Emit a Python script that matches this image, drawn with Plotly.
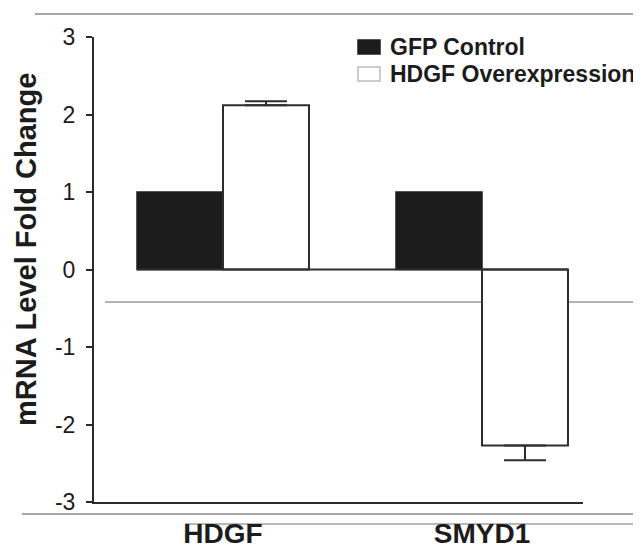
import plotly.graph_objects as go

# ---- data ----
genes = ["HDGF", "SMYD1"]
gfp_control = [1.0, 1.0]
hdgf_overexpression = [2.12, -2.27]
hdgf_err_up = [0.05, 0.0]
hdgf_err_down = [0.0, 0.19]
y_ticks = [-3, -2, -1, 0, 1, 2, 3]
y_tick_text = ["-3", "-2", "-1", "0", "1", "2", "3"]
series_names = ["GFP Control", "HDGF Overexpression"]

# ---- layout geometry (screen pixels; page body adds an 8px offset) ----
OFF = 8
W, H = 641 - OFF, 549 - OFF
PLOT_L, PLOT_R, PLOT_T, PLOT_B = 94, 583, 37, 502   # screen pixels
ML, MT = PLOT_L - OFF, PLOT_T - OFF
PW, PH = PLOT_R - PLOT_L, PLOT_B - PLOT_T
MR, MB = W - ML - PW, H - MT - PH
BARGAP = 0.336


def px2x(px):
    return (px - PLOT_L) / PW


def py2y(py):
    return (PLOT_B - py) / PH


FONT = "Arial, 'Liberation Sans', Helvetica, sans-serif"
INK = "#1c1c1c"

fig = go.Figure()
fig.add_trace(go.Bar(
    x=list(range(len(genes))), y=gfp_control, name=series_names[0],
    marker=dict(color="#1c1c1c", line=dict(color="#1c1c1c", width=1.5)),
    showlegend=False,
))
fig.add_trace(go.Bar(
    x=list(range(len(genes))), y=hdgf_overexpression, name=series_names[1],
    marker=dict(color="white", line=dict(color="#2e2e2e", width=2)),
    error_y=dict(type="data", symmetric=False, array=hdgf_err_up,
                 arrayminus=hdgf_err_down, color="#2e2e2e", thickness=2, width=21),
    showlegend=False,
))

# baseline at zero spanning the bar groups
half = (1 - BARGAP) / 2
fig.add_shape(type="line", xref="x", yref="y", x0=-half, x1=len(genes) - 1 + half,
              y0=0, y1=0, line=dict(color="#2e2e2e", width=2))

# manual legend
legend_rows = [(47, "#1c1c1c", "#1c1c1c"), (74, "white", "#bdbdbd")]
for (cy, fill, edge), name in zip(legend_rows, series_names):
    fig.add_shape(type="rect", xref="paper", yref="paper",
                  x0=px2x(358), x1=px2x(380), y0=py2y(cy + 7), y1=py2y(cy - 7),
                  fillcolor=fill, line=dict(color=edge, width=1.5))
    fig.add_annotation(xref="paper", yref="paper", x=px2x(388), y=py2y(cy),
                       xanchor="left", yanchor="middle", text=name, showarrow=False,
                       font=dict(family=FONT, size=23, color=INK, weight="bold"))

# y-axis title
fig.add_annotation(xref="paper", yref="paper", x=px2x(26), y=py2y(250),
                   xanchor="center", yanchor="middle", textangle=-90,
                   text="mRNA Level Fold Change", showarrow=False,
                   font=dict(family=FONT, size=29, color=INK, weight="bold"))

# faint scan lines seen in the reference
for (x0, x1, yy, c) in [(35, 641, 14, "#8a8a8a"),
                        (105, 641, 302, "#9a9a9a"), (22, 641, 514, "#8a8a8a"),
                        (185, 641, 524, "#a0a0a0")]:
    fig.add_shape(type="line", xref="paper", yref="paper",
                  x0=px2x(x0), x1=px2x(x1), y0=py2y(yy), y1=py2y(yy),
                  line=dict(color=c, width=1.5), layer="below")

x_left = (PLOT_L - 223) / 259
x_right = (PLOT_R - 223) / 259

fig.update_layout(
    width=W, height=H,
    margin=dict(l=ML, r=MR, t=MT, b=MB, pad=0, autoexpand=False),
    paper_bgcolor="white", plot_bgcolor="white",
    barmode="group", bargap=BARGAP, bargroupgap=0,
    showlegend=False,
    font=dict(family=FONT, color=INK),
    xaxis=dict(
        range=[x_left, x_right], tickmode="array",
        tickvals=list(range(len(genes))), ticktext=genes,
        showline=True, linecolor="#2a2a2a", linewidth=2, mirror=False,
        ticks="", showgrid=False, zeroline=False, automargin=False,
        tickfont=dict(family=FONT, size=28, color=INK, weight="bold"),
        ticklabelstandoff=5,
    ),
    yaxis=dict(
        range=[-3, 3], tickmode="array", tickvals=y_ticks, ticktext=y_tick_text,
        showline=True, linecolor="#2a2a2a", linewidth=2, automargin=False,
        ticks="outside", ticklen=6, tickwidth=2, tickcolor="#2a2a2a",
        showgrid=False, zeroline=False,
        tickfont=dict(family=FONT, size=23, color=INK),
        ticklabelstandoff=6,
    ),
)

fig.write_html("out.html")
